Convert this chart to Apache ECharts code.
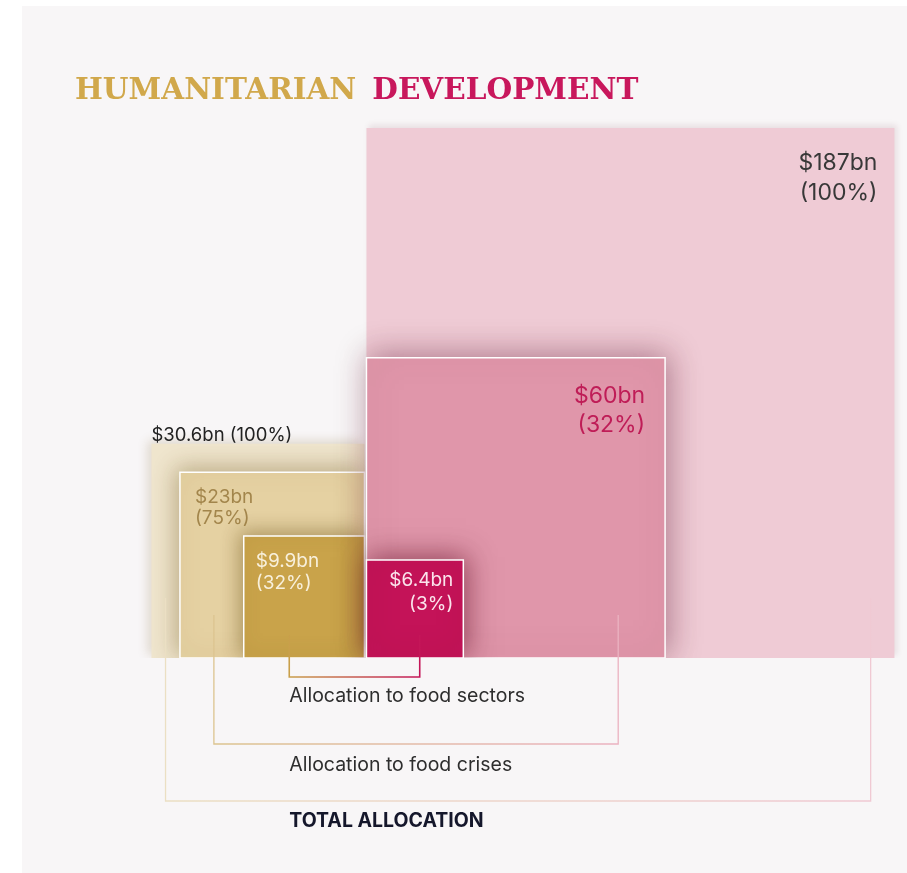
<!DOCTYPE html>
<html>
<head>
<meta charset="utf-8">
<script src="https://cdn.jsdelivr.net/npm/echarts@6/dist/echarts.min.js"></script>
<style>
html,body{margin:0;padding:0;background:#ffffff;}
#c{width:907px;height:873px;}
</style>
</head>
<body>
<div id="c"></div>
<script>
// ---- data ----
const humValues = [30.6, 23, 9.9];
const humLabels = ['$30.6bn (100%)', '$23bn\n(75%)', '$9.9bn\n(32%)'];
const devValues = [187, 60, 6.4];
const devLabels = ['$187bn\n(100%)', '$60bn\n(32%)', '$6.4bn\n(3%)'];
const bracketLabels = ['Allocation to food sectors', 'Allocation to food crises', 'TOTAL ALLOCATION'];
const titleWords = ['HUMANITARIAN', 'DEVELOPMENT'];

// ---- styles ----
const humStyle = [
  {fill:'#efe5cd', stroke:null, shadow:'rgba(120,90,30,0.20)', blur:10,
   lab:{dx:0, dy:-8, align:'left', vAlign:'middle', size:18.5, lh:20, color:'#222222'}},
  {fill:'#e5d1a2', stroke:'#ffffff', shadow:'rgba(110,80,20,0.40)', blur:22,
   lab:{dx:15, dy:15, align:'left', vAlign:'top', size:19, lh:21, color:'rgba(150,120,60,0.85)'}},
  {fill:'#c9a34a', stroke:'#ffffff', shadow:'rgba(100,70,10,0.45)', blur:18,
   lab:{dx:12, dy:14, align:'left', vAlign:'top', size:19, lh:22, color:'#f8f0dc'}}
];
const devStyle = [
  {fill:'#efcbd5', stroke:null, shadow:'rgba(90,20,40,0.10)', blur:6,
   lab:{dx:-17, dy:20, align:'right', vAlign:'top', size:23, lh:30, color:'#383838'}},
  {fill:'#e096aa', stroke:'#ffffff', shadow:'rgba(90,10,40,0.42)', blur:30,
   lab:{dx:-20, dy:24, align:'right', vAlign:'top', size:23, lh:29, color:'#bf1d57'}},
  {fill:'#c41358', stroke:'#ffffff', shadow:'rgba(90,0,30,0.55)', blur:26,
   lab:{dx:-10, dy:8, align:'right', vAlign:'top', size:19, lh:24, color:'#fbe4ec'}}
];
// bracket geometry (fraction of square width for each leg, pixel offsets from baseline)
const bracketStyle = [
  {hf:0.377, df:0.55,  top:23, bot:19,  labDy:19, c0:'#c9a24a', c1:'#c41358', w:1.6, font:'400 19.5px Inter', color:'#2e2e2e'},
  {hf:0.184, df:0.843, top:43, bot:86,  labDy:21, c0:'#dcc48f', c1:'#ebb2c1', w:1.3, font:'400 19.5px Inter', color:'#2e2e2e'},
  {hf:0.066, df:0.955, top:60, bot:143, labDy:20, c0:'#ebdfc3', c1:'#f0c9d3', w:1.3, font:'700 19.5px Inter', color:'#15172b'}
];

const UNIT = 38.75, ZERO_X = 366, BASE_Y = 658;
const XMIN = -8, XMAX = 14, YMAX = 14;

const squareData = humValues.map((v, i) => [0, v, i]).concat(devValues.map((v, i) => [1, v, i]));
const bracketData = bracketLabels.map((t, i) => [i, 2 - i]);

function renderSquare(params, api) {
  const g = api.value(0), v = api.value(1), i = api.value(2);
  const s = Math.sqrt(v);
  const st = g === 0 ? humStyle[i] : devStyle[i];
  const pA = api.coord([g === 0 ? -s : 0, s]);
  const pB = api.coord([g === 0 ? 0 : s, 0]);
  let x0 = pA[0], x1 = pB[0];
  if (g === 0) x1 -= 1; else x0 += 1;
  const y0 = pA[1], y1 = pB[1];
  const rectStyle = {fill: st.fill, shadowBlur: st.blur, shadowColor: st.shadow,
    shadowOffsetX: g === 0 ? -3 : 3, shadowOffsetY: -3};
  if (st.stroke) { rectStyle.stroke = st.stroke; rectStyle.lineWidth = 1.5; }
  const L = st.lab;
  const tx = L.align === 'left' ? x0 + L.dx : x1 + L.dx;
  const ty = y0 + L.dy;
  const text = g === 0 ? humLabels[i] : devLabels[i];
  return {
    type: 'group',
    children: [
      {type: 'rect', shape: {x: x0, y: y0, width: x1 - x0, height: y1 - y0}, style: rectStyle},
      {type: 'text', z2: 10, style: {x: tx, y: ty, text: text, fill: L.color,
        font: '400 ' + L.size + 'px Inter', fontSize: L.size, fontFamily: 'Inter',
        align: L.align, textAlign: L.align, verticalAlign: L.vAlign, textVerticalAlign: L.vAlign,
        lineHeight: L.lh}}
    ]
  };
}

function renderBracket(params, api) {
  const k = api.value(0), sq = api.value(1);
  const st = bracketStyle[k];
  const hs = Math.sqrt(humValues[sq]), ds = Math.sqrt(devValues[sq]);
  const hl = api.coord([-hs, 0])[0], hr = api.coord([0, 0])[0] - 1;
  const dl = api.coord([0, 0])[0] + 1, dr = api.coord([ds, 0])[0];
  const base = api.coord([0, 0])[1];
  const xl = hl + (hr - hl) * st.hf;
  const xr = dl + (dr - dl) * st.df;
  // label x aligned to the food-sectors left leg
  const s0 = bracketStyle[0];
  const hs0 = Math.sqrt(humValues[2]);
  const hl0 = api.coord([-hs0, 0])[0];
  const labX = hl0 + (hr - hl0) * s0.hf;
  const yTop = base - st.top, yBot = base + st.bot;
  return {
    type: 'group',
    children: [
      {type: 'polyline', shape: {points: [[xl, yTop], [xl, yBot], [xr, yBot], [xr, yTop]]},
        style: {fill: null, lineWidth: st.w,
          stroke: new echarts.graphic.LinearGradient(0, 0, 1, 0, [{offset: 0, color: st.c0}, {offset: 1, color: st.c1}])}},
      {type: 'text', style: {x: labX, y: yBot + st.labDy, text: bracketLabels[k], fill: st.color,
        font: st.font, align: 'left', textAlign: 'left', verticalAlign: 'middle', textVerticalAlign: 'middle'}}
    ]
  };
}

const chart = echarts.init(document.getElementById('c'), null, {renderer: 'canvas'});
const gridLeft = ZERO_X + XMIN * UNIT;
const gridTop = BASE_Y - YMAX * UNIT;
const titleFont = {fontFamily: 'DejaVu Serif', fontWeight: 'bold', fontSize: 29.5};
chart.setOption({
  backgroundColor: '#ffffff',
  animation: false,
  graphic: [
    {type: 'rect', z: -100, silent: true, shape: {x: 22, y: 6, width: 885, height: 867}, style: {fill: '#f8f6f7'}}
  ],
  title: {
    left: 75, top: 76, padding: 0,
    text: '{a|' + titleWords[0] + '}{s| }{b|' + titleWords[1] + '}',
    textStyle: {
      rich: {
        a: Object.assign({color: '#d1a84b'}, titleFont),
        s: Object.assign({color: '#d1a84b', width: 16}, titleFont),
        b: Object.assign({color: '#c8175c'}, titleFont)
      }
    }
  },
  grid: {left: gridLeft, top: gridTop, width: (XMAX - XMIN) * UNIT, height: YMAX * UNIT, show: false},
  xAxis: {type: 'value', min: XMIN, max: XMAX, show: false},
  yAxis: {type: 'value', min: 0, max: YMAX, show: false},
  series: [
    {type: 'custom', clip: true, renderItem: renderSquare, data: squareData, silent: true, z: 2},
    {type: 'custom', clip: false, renderItem: renderBracket, data: bracketData, silent: true, z: 5}
  ]
});
</script>
</body>
</html>
